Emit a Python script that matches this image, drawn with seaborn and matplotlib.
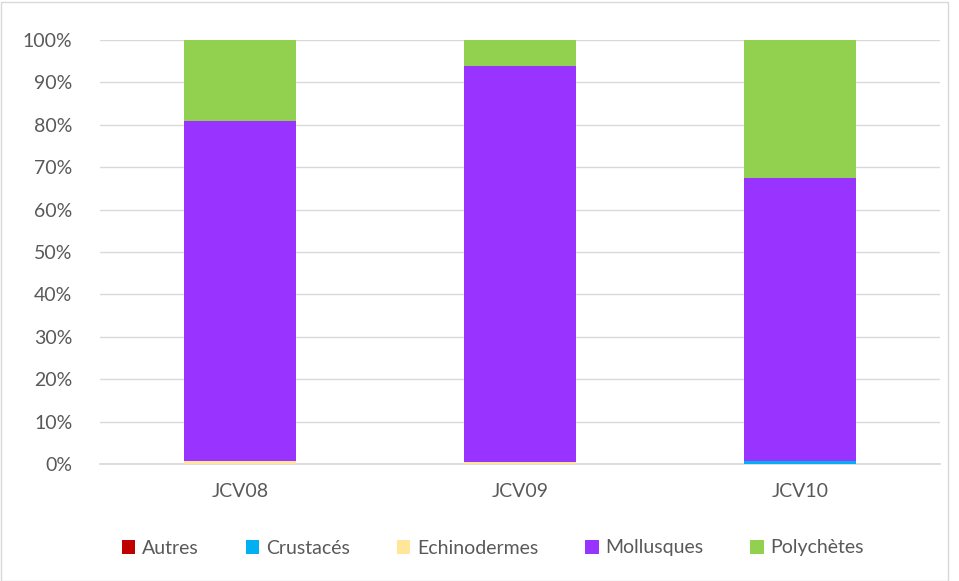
import matplotlib
matplotlib.use("Agg")
import matplotlib.pyplot as plt
import seaborn as sns
import numpy as np
from matplotlib.patches import Rectangle
from matplotlib.ticker import FuncFormatter

stations = ["JCV08", "JCV09", "JCV10"]
autres = [0.0, 0.0, 0.0]
crustaces = [0.0, 0.0, 0.6]
echinodermes = [0.8, 0.5, 0.0]
mollusques = [80.1, 93.4, 66.9]
polychetes = [19.1, 6.1, 32.5]

series = [
    ("Autres", autres, "#C00000"),
    ("Crustacés", crustaces, "#00B0F0"),
    ("Echinodermes", echinodermes, "#FFE699"),
    ("Mollusques", mollusques, "#9933FF"),
    ("Polychètes", polychetes, "#92D050"),
]

sns.set_theme(style="white")
plt.rcParams['font.family'] = ['Lato', 'DejaVu Sans']

fig = plt.figure(figsize=(9.59, 5.81), dpi=100)
ax = fig.add_axes([100/959, 1-464/581, 840/959, 424/581])

bottom = np.zeros(len(stations))
for name, vals, col in series:
    sns.barplot(x=stations, y=vals, bottom=bottom, color=col, width=0.4,
                ax=ax, label=name, saturation=1, zorder=3, linewidth=0)
    bottom = bottom + np.array(vals)

handles, labels = ax.get_legend_handles_labels()
if ax.get_legend() is not None:
    ax.get_legend().remove()

ax.set_ylim(0, 100)
ax.set_xlim(-0.5, 2.5)
ax.set_yticks(np.arange(0, 101, 10))
ax.yaxis.set_major_formatter(FuncFormatter(lambda v, p: f"{int(v)}%"))
ax.grid(axis="y", color="#D9D9D9", linewidth=1, zorder=0)
for s in ["top", "right", "left"]:
    ax.spines[s].set_visible(False)
ax.spines["bottom"].set_color("#D9D9D9")
ax.tick_params(axis="both", colors="#595959", labelsize=14, length=0)
ax.tick_params(axis="x", pad=14)
ax.tick_params(axis="y", pad=20)
ax.set_xlabel("")
ax.set_ylabel("")

leg = fig.legend(handles, labels, loc="center", bbox_to_anchor=(493/959, 1-548/581),
                 ncol=5, frameon=False, fontsize=14, handlelength=0.7, handleheight=0.7,
                 handletextpad=0.35, columnspacing=2.4)
for t in leg.get_texts():
    t.set_color("#595959")

fig.patches.append(Rectangle((0.5/959, 0.5/581), 1-12/959, 1-2/581, transform=fig.transFigure,
                             fill=False, edgecolor="#D9D9D9", linewidth=1))

fig.savefig("out.png", dpi=100)
